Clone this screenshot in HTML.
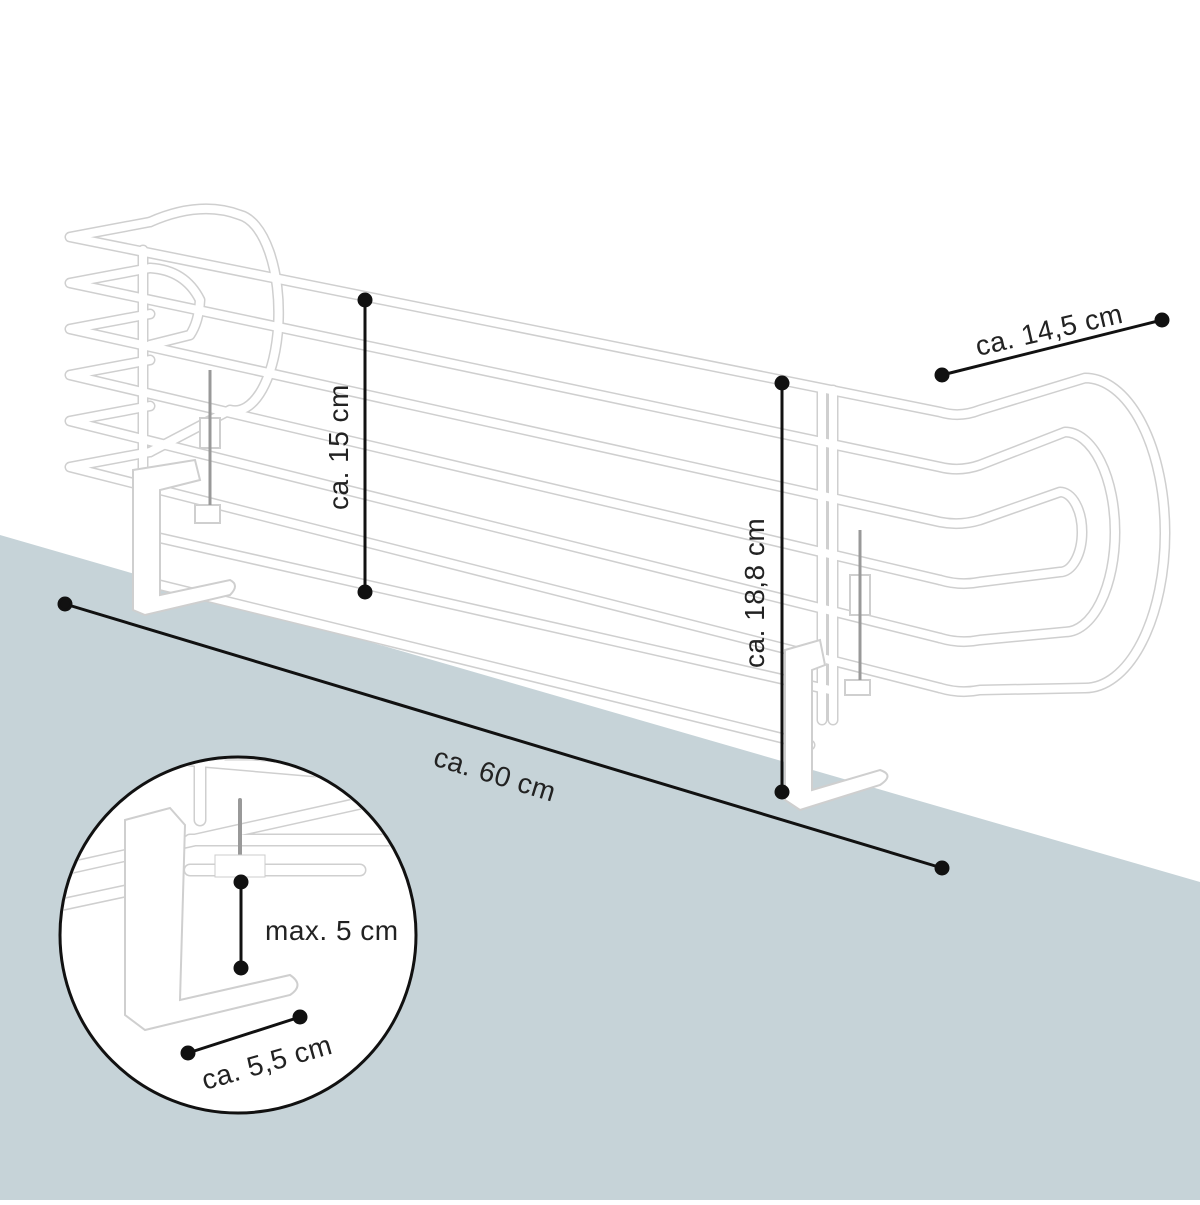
<!DOCTYPE html>
<html><head><meta charset="utf-8"><style>
body{margin:0;width:1200px;height:1200px;overflow:hidden;background:#fff}
text{font-family:"Liberation Sans",sans-serif;fill:#222;font-size:28px;letter-spacing:0.5px}
</style></head><body>
<svg width="1200" height="1200" viewBox="0 0 1200 1200">
<defs>
<g id="rails">
<path d="M150,222 L70,237 L940,412 Q960,418 980,410 L1085,378 A80,155 0 0 1 1085,688 L980,690 Q960,694 940,688"/>
<path d="M150,268 L70,283 L940,467 Q960,472 980,465 L1065,432 A50,100 0 0 1 1065,632 L980,640 Q960,644 940,638"/>
<path d="M150,314 L70,329 L940,522 Q960,526 980,520 L1060,492 A22,40 0 0 1 1060,572 L980,582 Q960,586 940,580"/>
<path d="M150,360 L70,375 L940,580"/>
<path d="M150,406 L70,421 L940,638"/>
<path d="M150,452 L70,467 L940,688"/>
<path d="M160,538 L830,690"/>
<path d="M160,585 L810,745"/>
<path d="M150,222 Q200,200 240,215 A40,90 0 0 1 230,410 L150,452"/>
<path d="M150,268 Q185,270 200,300 A25,50 0 0 1 190,335 L150,345"/>
<path d="M143,250 L143,590 M833,390 L833,720 M822,390 L822,720"/>
</g>
<g id="irails">
<path d="M60,870 L420,790 M60,905 L130,890 M190,840 L420,840 M190,870 L360,870 M130,755 L420,780 M200,730 V820"/>
</g>
</defs>
<polygon points="0,535 1200,882 1200,1200 0,1200" fill="#c6d3d8"/>
<g fill="none" stroke-linecap="round" stroke-linejoin="round">
<use href="#rails" stroke="#cfcfcf" stroke-width="11"/>
<use href="#rails" stroke="#fff" stroke-width="8"/>
</g>
<g fill="#fff" stroke="#cfcfcf" stroke-width="2">
<path d="M133,470 L195,460 L200,480 L160,490 L160,595 L230,580 Q240,585 230,595 L145,615 L133,610 Z"/>
<path d="M785,650 L820,640 L825,665 L812,670 L812,790 L880,770 Q895,775 880,785 L800,810 L785,800 Z"/>
<rect x="200" y="418" width="20" height="30"/><rect x="195" y="505" width="25" height="18"/>
<rect x="850" y="575" width="20" height="40"/><rect x="845" y="680" width="25" height="15"/>
</g>
<g stroke="#999" stroke-width="3"><path d="M210,370 V505 M860,530 V680"/></g>
<g stroke="#111" stroke-width="3" fill="#111">
<line x1="365" y1="300" x2="365" y2="592"/><circle cx="365" cy="300" r="6"/><circle cx="365" cy="592" r="6"/>
<line x1="782" y1="383" x2="782" y2="792"/><circle cx="782" cy="383" r="6"/><circle cx="782" cy="792" r="6"/>
<line x1="942" y1="375" x2="1162" y2="320"/><circle cx="942" cy="375" r="6"/><circle cx="1162" cy="320" r="6"/>
<line x1="65" y1="604" x2="942" y2="868"/><circle cx="65" cy="604" r="6"/><circle cx="942" cy="868" r="6"/>
</g>
<text transform="translate(348,510) rotate(-90)">ca. 15 cm</text>
<text transform="translate(764,668) rotate(-90)">ca. 18,8 cm</text>
<text transform="translate(978,356) rotate(-13)">ca. 14,5 cm</text>
<text transform="translate(432,765) rotate(17)">ca. 60 cm</text>
<circle cx="238" cy="935" r="178" fill="#fff" stroke="#111" stroke-width="3"/>
<clipPath id="c"><circle cx="238" cy="935" r="176"/></clipPath>
<g clip-path="url(#c)" fill="none" stroke-linecap="round">
<use href="#irails" stroke="#cfcfcf" stroke-width="13"/>
<use href="#irails" stroke="#fff" stroke-width="10"/>
<path d="M125,820 L170,808 L185,825 L180,1000 L290,975 Q305,985 290,995 L145,1030 L125,1015 Z" fill="#fff" stroke="#cfcfcf" stroke-width="2"/>
<path d="M240,800 V860" stroke="#999" stroke-width="4"/>
<rect x="215" y="855" width="50" height="22" fill="#fff" stroke="#ccc"/>
<rect x="225" y="730" width="35" height="30" fill="#fff" stroke="#ccc"/>
</g>
<g stroke="#111" stroke-width="3" fill="#111">
<line x1="241" y1="882" x2="241" y2="968"/><circle cx="241" cy="882" r="6"/><circle cx="241" cy="968" r="6"/>
<line x1="188" y1="1053" x2="300" y2="1017"/><circle cx="188" cy="1053" r="6"/><circle cx="300" cy="1017" r="6"/>
</g>
<text x="265" y="940">max. 5 cm</text>
<text transform="translate(205,1090) rotate(-16)">ca. 5,5 cm</text>
</svg>
</body></html>
